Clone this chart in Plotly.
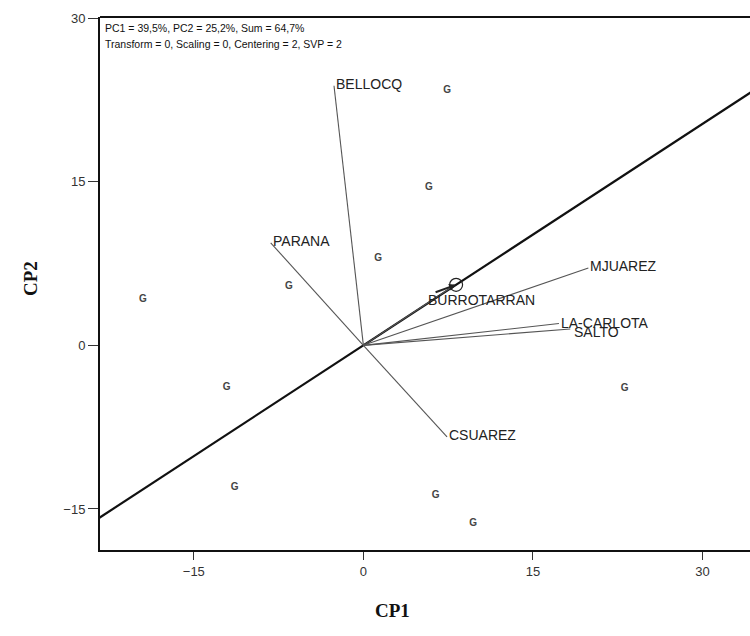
import plotly.graph_objects as go

# Genotype scores (CP1, CP2)
genotype_x = [7.4, 5.8, 1.3, -19.5, -6.6, -12.1, 23.1, -11.4, 6.4, 9.7]
genotype_y = [23.4, 14.5, 8.0, 4.2, 5.4, -3.9, -4.0, -13.0, -13.8, -16.3]

# Environment vectors (CP1, CP2)
env_names = ["BELLOCQ", "PARANA", "MJUAREZ", "BURROTARRAN", "LA-CARLOTA", "SALTO", "CSUAREZ"]
env_x = [-2.6, -8.2, 19.9, 7.9, 17.3, 18.3, 7.4]
env_y = [23.8, 9.4, 7.1, 5.4, 2.0, 1.5, -8.4]

# Average environment coordinate
avg_env_x = 8.2
avg_env_y = 5.55

x_ticks = [-15, 0, 15, 30]
y_ticks = [-15, 0, 15, 30]

info_lines = ["PC1 = 39,5%, PC2 = 25,2%, Sum = 64,7%",
              "Transform = 0, Scaling = 0, Centering = 2, SVP = 2"]

SANS = "Liberation Sans, Arial, sans-serif"
SERIF = "Liberation Serif, Times New Roman, serif"

fig = go.Figure()

# Average environment axis through the origin
t_vals = [-4, 5]
fig.add_trace(go.Scatter(
    x=[t * avg_env_x for t in t_vals], y=[t * avg_env_y for t in t_vals],
    mode="lines", line=dict(color="#111", width=2.2), hoverinfo="skip"))

# Environment vectors
for ex, ey in zip(env_x, env_y):
    fig.add_trace(go.Scatter(x=[0, ex], y=[0, ey], mode="lines",
                             line=dict(color="#555", width=1.1), hoverinfo="skip"))

# Average environment marker
fig.add_trace(go.Scatter(x=[avg_env_x], y=[avg_env_y], mode="markers",
                         marker=dict(symbol="circle-open", size=13, color="#222",
                                     line=dict(color="#222", width=1.2)),
                         hoverinfo="skip"))

# Genotype markers
fig.add_trace(go.Scatter(x=genotype_x, y=genotype_y, mode="text",
                         text=["<b>G</b>"] * len(genotype_x),
                         textfont=dict(family=SANS, size=10, color="#444"),
                         hoverinfo="skip"))

annotations = []
label_offsets = {"BURROTARRAN": (-27, -14), "SALTO": (2, -3), "LA-CARLOTA": (0, 1)}
for name, ex, ey in zip(env_names, env_x, env_y):
    dx, dy = label_offsets.get(name, (0, 2))
    annotations.append(dict(x=ex, y=ey, xref="x", yref="y", text=name,
                            showarrow=False, xanchor="left", yanchor="middle",
                            xshift=dx, yshift=dy,
                            font=dict(family=SANS, size=14, color="#222")))

# Arrow pointing to the average environment
annotations.append(dict(x=avg_env_x, y=avg_env_y, xref="x", yref="y",
                        ax=-22, ay=8, showarrow=True, arrowhead=2,
                        arrowsize=0.7, arrowwidth=2, arrowcolor="#222", text=""))

for i, line in enumerate(info_lines):
    annotations.append(dict(x=0.005, y=1 - 0.005 - i * 0.03, xref="paper", yref="paper",
                            text=line, showarrow=False, xanchor="left", yanchor="top",
                            font=dict(family=SANS, size=10.5, color="#111")))

annotations.append(dict(x=0.45, y=-0.09, xref="paper", yref="paper", text="<b>CP1</b>",
                        showarrow=False, xanchor="center", yanchor="top",
                        font=dict(family=SERIF, size=19, color="#111")))
annotations.append(dict(x=-0.108, y=0.51, xref="paper", yref="paper", text="<b>CP2</b>",
                        showarrow=False, xanchor="center", yanchor="middle", textangle=-90,
                        font=dict(family=SERIF, size=19, color="#111")))

fig.update_layout(
    width=750, height=636,
    margin=dict(l=100, r=0, t=17, b=86),
    paper_bgcolor="white", plot_bgcolor="white",
    showlegend=False,
    annotations=annotations,
    shapes=[dict(type="line", xref="paper", yref="paper", x0=0, x1=1.01, y0=1, y1=1,
                 line=dict(color="#111", width=2))],
    xaxis=dict(range=[-23.3, 34.2], tickvals=x_ticks, ticks="outside", ticklen=8,
               tickcolor="#333", showgrid=False, zeroline=False, showline=True,
               linecolor="#111", linewidth=2,
               tickfont=dict(family=SANS, size=13, color="#333")),
    yaxis=dict(range=[-18.76, 30.1], tickvals=y_ticks, ticks="outside", ticklen=10,
               tickcolor="#333", showgrid=False, zeroline=False, showline=True,
               linecolor="#111", linewidth=2,
               tickfont=dict(family=SANS, size=13, color="#333")),
)

fig.write_html("out.html")
